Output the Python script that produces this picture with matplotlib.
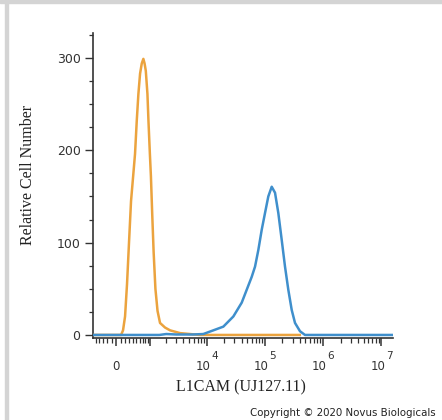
import numpy as np
import matplotlib
matplotlib.use("Agg")
import matplotlib.pyplot as plt
from matplotlib.patches import Rectangle
from matplotlib import transforms

# ---- data (fluorescence intensity, relative cell count) ----
iso_x = [-580, -134, 112, 157, 204, 251, 300, 352, 413, 461, 512, 562, 616, 673,
         730, 775, 822, 888, 931, 994, 1041, 1105, 1174, 1269, 1390, 1545,
         1904, 2337, 3494, 5200, 7730, 400000]
iso_y = [0, 0, 0, 5, 20, 55, 100, 145, 174, 196, 232, 261, 283, 294,
         299, 294, 286, 261, 232, 196, 172, 130, 90, 50, 26, 13,
         8, 5, 2, 1, 0, 0]

l1_x = [-583, 1500, 2000, 3000, 5860, 8810, 13100, 19450, 28900, 40250, 49060,
        59800, 68100, 77600, 88760, 101000, 115100, 131700, 150100, 171000,
        195400, 222700, 253700, 290400, 330700, 403000, 490800, 1.59e7]
l1_y = [0, 0, 1, 0.5, 0.5, 1, 5, 9, 20, 35, 49,
        63, 74, 92, 114, 132, 150, 160.5, 154, 132,
        103, 74, 49, 27, 13, 4, 0, 0]

x_major = [0, 1e3, 1e4, 1e5, 1e6, 1e7]
x_exponents = [None, None, "4", "5", "6", "7"]
y_major = [0, 100, 200, 300]

ISO_COLOR = "#EBA33E"
L1_COLOR = "#3F8FCC"
TXT = "#333333"

fig = plt.figure(figsize=(4.42, 4.20), dpi=100)
# light grey frame of the screenshot
fig.patches.append(Rectangle((0, 1 - 3 / 420), 1, 3 / 420, transform=fig.transFigure,
                             color="#d4d4d4", zorder=0))
fig.patches.append(Rectangle((5 / 442, 0), 3 / 442, 1, transform=fig.transFigure,
                             color="#d4d4d4", zorder=0))

ax = fig.add_axes([93 / 442, 1 - 338 / 420, 300 / 442, 305 / 420])
ax.set_xscale("asinh", linear_width=560)
ax.set_xlim(-583, 1.59e7)
ax.set_ylim(-3.3, 327)

ax.plot(iso_x, iso_y, color=ISO_COLOR, lw=1.8, zorder=3, solid_joinstyle="round")
ax.plot(l1_x, l1_y, color=L1_COLOR, lw=1.8, zorder=3, solid_joinstyle="round")

for s in ["top", "right"]:
    ax.spines[s].set_visible(False)
for s in ["left", "bottom"]:
    ax.spines[s].set_color(TXT)
    ax.spines[s].set_linewidth(1.2)

# x ticks
minor = []
for d in range(2, 7):
    for k in range(1, 10):
        minor.append(k * 10 ** d)
minor += [-k * 100 for k in range(1, 6)]
ax.xaxis.set_major_locator(matplotlib.ticker.FixedLocator(x_major))
ax.xaxis.set_minor_locator(matplotlib.ticker.FixedLocator(minor))
ax.xaxis.set_major_formatter(matplotlib.ticker.NullFormatter())
ax.xaxis.set_minor_formatter(matplotlib.ticker.NullFormatter())
ax.tick_params(axis="x", which="major", length=6, width=1.1, color=TXT)
ax.tick_params(axis="x", which="minor", length=3.5, width=0.9, color=TXT)

# y ticks
ax.yaxis.set_major_locator(matplotlib.ticker.FixedLocator(y_major))
ax.yaxis.set_minor_locator(matplotlib.ticker.MultipleLocator(25))
ax.tick_params(axis="y", which="major", length=6, width=1.0, color=TXT,
               labelsize=9, labelcolor=TXT, pad=3)
ax.tick_params(axis="y", which="minor", length=3, width=0.9, color=TXT)
for lab in ax.get_yticklabels():
    lab.set_fontfamily("DejaVu Sans")

# x tick labels drawn with a common baseline
trans = transforms.blended_transform_factory(ax.transData, fig.transFigure)
base_y = 1 - 370 / 420
for v, ex in zip(x_major, x_exponents):
    if v == 0:
        ax.text(v, base_y, "0", transform=trans, ha="center", va="baseline",
                fontsize=8.5, family="DejaVu Sans", color=TXT)
    elif ex is not None:
        t10 = transforms.offset_copy(trans, fig=fig, x=-3.5, y=0, units="dots")
        tex = transforms.offset_copy(trans, fig=fig, x=4.5, y=11, units="dots")
        ax.text(v, base_y, "10", transform=t10, ha="center", va="baseline",
                fontsize=8.5, family="DejaVu Sans", color=TXT)
        ax.text(v, base_y, ex, transform=tex, ha="left", va="baseline",
                fontsize=7.5, family="DejaVu Sans", color=TXT)

fig.text(241 / 442, 1 - 387 / 420, "L1CAM (UJ127.11)", ha="center", va="center",
         fontsize=11.5, family="Liberation Serif", color="#222222")
fig.text(28 / 442, 1 - 175 / 420, "Relative Cell Number", ha="center", va="center",
         rotation=90, fontsize=11.5, family="Liberation Serif", color="#222222")
fig.text(250 / 442, 1 - 413 / 420, "Copyright \u00a9 2020 Novus Biologicals",
         ha="left", va="center", fontsize=7.4, family="DejaVu Sans", color="#222222")

fig.savefig("out.png", dpi=100)
